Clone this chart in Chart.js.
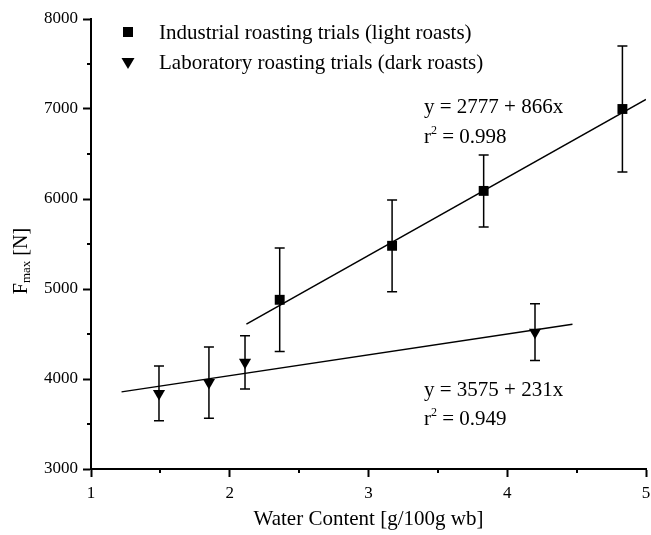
<!DOCTYPE html>
<html>
<head>
<meta charset="utf-8">
<script src="https://cdn.jsdelivr.net/npm/chart.js@4"></script>
<style>
  html, body { margin: 0; padding: 0; background: #fff; }
  #chart { display: block; }
</style>
</head>
<body>
<canvas id="chart" width="651" height="535"></canvas>
<script>
// water content (g/100g wb) vs. max force
const indWater = [2.36, 3.17, 3.83, 4.83];
const indForce = [4880, 5480, 6090, 7000];
const indErr = [575, 510, 400, 700];

const labWater = [1.49, 1.85, 2.11, 4.20];
const labForce = [3840, 3960, 4185, 4520];
const labErr = [305, 395, 295, 315];

// regression line end points
const indFitX = [2.12, 5.0];
const indFitY = [4610, 7107];
const labFitX = [1.22, 4.47];
const labFitY = [3857, 4608];

const seriesNames = [
  "Industrial roasting trials (light roasts)",
  "Laboratory roasting trials (dark roasts)"
];
const indEquation = ["y = 2777 + 866x", "0.998"];
const labEquation = ["y = 3575 + 231x", "0.949"];

const xMinorTicks = [1.5, 2.5, 3.5, 4.5];
const yMinorTicks = [3500, 4500, 5500, 6500, 7500];

const FONT = "'Liberation Serif', 'Times New Roman', serif";

function toPoints(xs, ys) {
  return xs.map((x, i) => ({ x: x, y: ys[i] }));
}

// error bars, drawn under the markers
const errorBars = {
  id: "errorBars",
  beforeDatasetsDraw(chart) {
    const ctx = chart.ctx;
    const xs = chart.scales.x, ys = chart.scales.y;
    const sets = [[indWater, indForce, indErr], [labWater, labForce, labErr]];
    ctx.save();
    ctx.strokeStyle = "#000";
    ctx.lineWidth = 1.5;
    sets.forEach(([wx, fy, err]) => {
      wx.forEach((w, i) => {
        const px = xs.getPixelForValue(w);
        const top = ys.getPixelForValue(fy[i] + err[i]);
        const bot = ys.getPixelForValue(fy[i] - err[i]);
        ctx.beginPath();
        ctx.moveTo(px, top); ctx.lineTo(px, bot);
        ctx.moveTo(px - 5, top); ctx.lineTo(px + 5, top);
        ctx.moveTo(px - 5, bot); ctx.lineTo(px + 5, bot);
        ctx.stroke();
      });
    });
    ctx.restore();
  }
};

// short minor ticks on both axes
const minorTicks = {
  id: "minorTicks",
  afterDraw(chart) {
    const ctx = chart.ctx;
    const area = chart.chartArea;
    ctx.save();
    ctx.strokeStyle = "#000";
    ctx.lineWidth = 2;
    ctx.beginPath();
    xMinorTicks.forEach(v => {
      const px = Math.round(chart.scales.x.getPixelForValue(v));
      ctx.moveTo(px, area.bottom); ctx.lineTo(px, area.bottom + 4);
    });
    yMinorTicks.forEach(v => {
      const py = Math.round(chart.scales.y.getPixelForValue(v));
      ctx.moveTo(area.left, py); ctx.lineTo(area.left - 4, py);
    });
    ctx.stroke();
    ctx.restore();
  }
};

// legend, fit equations and the y title with subscript
const labels = {
  id: "labels",
  afterDraw(chart) {
    const ctx = chart.ctx;
    ctx.save();
    ctx.fillStyle = "#000";

    // legend markers
    ctx.fillRect(123, 27, 10, 10);
    ctx.beginPath();
    ctx.moveTo(121.5, 58); ctx.lineTo(134.5, 58); ctx.lineTo(128, 69);
    ctx.closePath(); ctx.fill();

    ctx.font = "21px " + FONT;
    ctx.textBaseline = "middle";
    ctx.textAlign = "left";
    ctx.fillText(seriesNames[0], 159, 33);
    ctx.fillText(seriesNames[1], 159, 63);

    // equations
    ctx.textBaseline = "alphabetic";
    function eq(lines, x, y1, y2) {
      ctx.font = "21px " + FONT;
      ctx.fillText(lines[0], x, y1);
      ctx.fillText("r", x, y2);
      const rw = ctx.measureText("r").width;
      ctx.font = "12px " + FONT;
      ctx.fillText("2", x + rw, y2 - 9);
      const sw = ctx.measureText("2").width;
      ctx.font = "21px " + FONT;
      ctx.fillText(" = " + lines[1], x + rw + sw, y2);
    }
    eq(indEquation, 424, 113, 143);
    eq(labEquation, 424, 396, 425);

    // y axis title
    ctx.translate(22, 261);
    ctx.rotate(-Math.PI / 2);
    ctx.textBaseline = "middle";
    ctx.font = "20px " + FONT;
    const fW = ctx.measureText("F").width;
    const nW = ctx.measureText(" [N]").width;
    ctx.font = "13px " + FONT;
    const mW = ctx.measureText("max").width;
    let x = -(fW + mW + nW) / 2;
    ctx.font = "20px " + FONT;
    ctx.fillText("F", x, 0);
    x += fW;
    ctx.font = "13px " + FONT;
    ctx.fillText("max", x, 5);
    x += mW;
    ctx.font = "20px " + FONT;
    ctx.fillText(" [N]", x, 0);
    ctx.restore();
  }
};

new Chart(document.getElementById("chart"), {
  type: "scatter",
  data: {
    datasets: [
      {
        label: seriesNames[0],
        data: toPoints(indWater, indForce),
        pointStyle: "rect",
        pointRadius: 7,
        backgroundColor: "#000",
        borderColor: "#000",
        borderWidth: 0
      },
      {
        label: seriesNames[1],
        data: toPoints(labWater, labForce),
        pointStyle: "triangle",
        rotation: 180,
        pointRadius: 7,
        backgroundColor: "#000",
        borderColor: "#000",
        borderWidth: 0
      },
      {
        type: "line",
        data: toPoints(indFitX, indFitY),
        borderColor: "#000",
        borderWidth: 1.5,
        pointRadius: 0,
        fill: false
      },
      {
        type: "line",
        data: toPoints(labFitX, labFitY),
        borderColor: "#000",
        borderWidth: 1.5,
        pointRadius: 0,
        fill: false
      }
    ]
  },
  options: {
    responsive: false,
    animation: false,
    layout: {
      autoPadding: false,
      padding: { top: 19, right: 5, bottom: 0, left: 0 }
    },
    plugins: {
      legend: { display: false },
      tooltip: { enabled: false }
    },
    scales: {
      x: {
        type: "linear",
        min: 1,
        max: 5,
        afterFit: s => { s.height = 66; s.paddingLeft = 0; s.paddingRight = 0; },
        border: { display: true, color: "#000", width: 2 },
        grid: { drawOnChartArea: false, color: "#000", tickColor: "#000", tickWidth: 2, tickLength: 8 },
        ticks: { stepSize: 1, color: "#000", padding: 6, font: { family: FONT, size: 17 }, maxRotation: 0 },
        title: { display: true, text: "Water Content [g/100g wb]", color: "#000", font: { family: FONT, size: 21 }, padding: { top: 0, bottom: 3 } }
      },
      y: {
        min: 3000,
        max: 8000,
        afterFit: s => { s.width = 91; s.paddingTop = 0; s.paddingBottom = 0; },
        border: { display: true, color: "#000", width: 2 },
        grid: { drawOnChartArea: false, color: "#000", tickColor: "#000", tickWidth: 2, tickLength: 8 },
        ticks: { stepSize: 1000, color: "#000", padding: 5, font: { family: FONT, size: 17 }, callback: v => String(v) }
      }
    }
  },
  plugins: [errorBars, minorTicks, labels]
});
</script>
</body>
</html>
